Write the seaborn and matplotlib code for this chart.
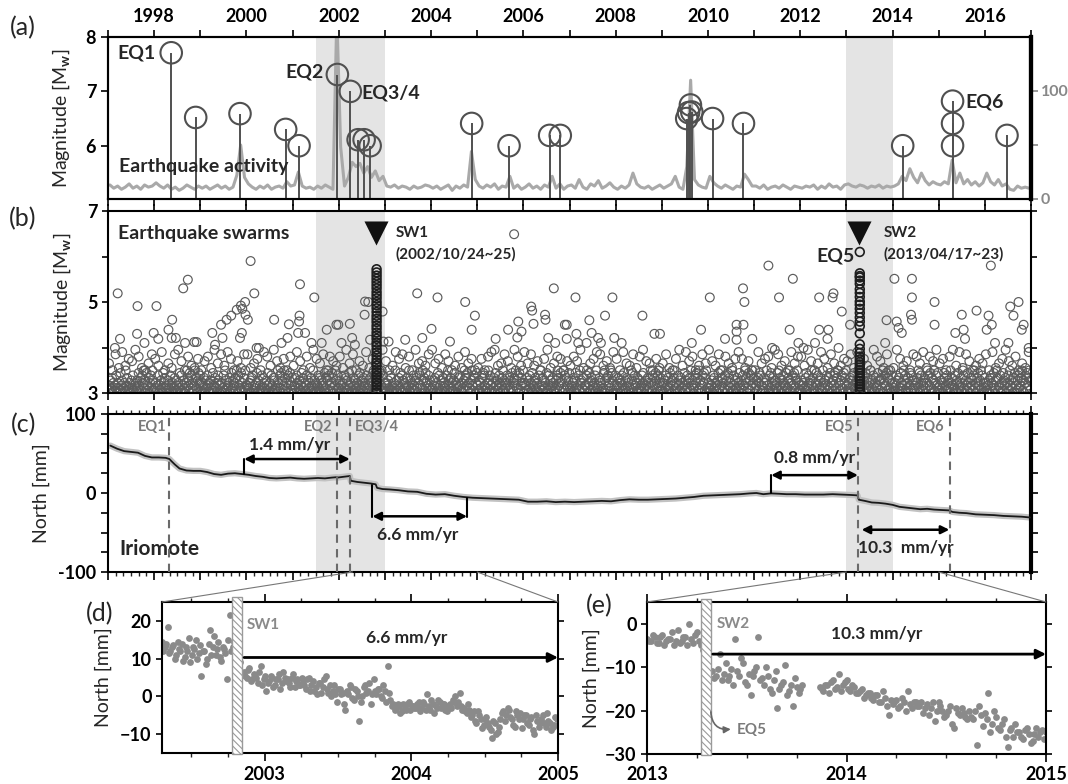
import numpy as np
import matplotlib
matplotlib.use("Agg")
import matplotlib.pyplot as plt
import seaborn as sns
from matplotlib.patches import ConnectionPatch, Rectangle
from matplotlib.ticker import MultipleLocator, FuncFormatter

# ---------------- data ----------------
# (a) large earthquakes: decimal year and Mw
eq_years = [1998.37, 1998.90, 1999.86, 2000.85, 2001.14, 2001.97, 2002.25, 2002.42,
            2002.55, 2002.68, 2004.88, 2005.69, 2006.57, 2006.80, 2009.54, 2009.58,
            2009.62, 2009.65, 2010.10, 2010.77, 2014.22, 2015.30, 2015.30, 2015.30,
            2016.48]
eq_mags = [7.71, 6.52, 6.59, 6.30, 6.00, 7.31, 7.00, 6.11,
           6.11, 6.00, 6.41, 6.00, 6.19, 6.19, 6.50, 6.61,
           6.75, 6.62, 6.50, 6.41, 6.00, 6.82, 6.41, 6.00,
           6.19]

# (a) monthly earthquake activity (right axis), one row per year 1997..2016
activity_rows = [
    [13, 10, 12, 9, 11, 14, 10, 12, 9, 13, 11, 12],
    [15, 12, 10, 13, 9, 11, 8, 10, 13, 11, 9, 12],
    [10, 12, 9, 11, 13, 10, 12, 9, 11, 22, 50, 20],
    [14, 11, 9, 12, 10, 13, 9, 11, 12, 10, 16, 12],
    [13, 25, 12, 10, 11, 9, 12, 10, 13, 11, 9, 170],
    [48, 12, 20, 34, 30, 33, 24, 30, 20, 26, 17, 21],
    [12, 11, 13, 10, 12, 11, 9, 12, 10, 11, 13, 12],
    [10, 12, 9, 11, 13, 8, 12, 10, 13, 11, 44, 18],
    [12, 10, 13, 11, 14, 9, 12, 11, 21, 10, 13, 9],
    [11, 14, 10, 12, 9, 13, 11, 21, 10, 14, 9, 12],
    [13, 10, 18, 11, 9, 14, 12, 17, 10, 12, 15, 11],
    [9, 12, 10, 13, 24, 14, 11, 10, 12, 9, 11, 13],
    [10, 12, 14, 21, 11, 9, 30, 110, 18, 13, 11, 10],
    [21, 15, 12, 10, 13, 11, 9, 12, 11, 23, 18, 12],
    [12, 10, 13, 9, 11, 12, 10, 13, 11, 9, 12, 11],
    [10, 12, 11, 13, 9, 12, 10, 14, 11, 12, 9, 13],
    [14, 12, 11, 13, 12, 10, 12, 11, 13, 10, 12, 11],
    [12, 14, 21, 17, 28, 20, 15, 24, 17, 13, 16, 14],
    [13, 16, 14, 36, 15, 24, 14, 18, 13, 16, 12, 15],
    [24, 16, 13, 18, 12, 14, 9, 8, 12, 10, 11, 10],
]

# (b) individual events above the dense band (decimal year, Mw)
swarm_t = [1997.21, 1997.15, 1997.26, 1997.64, 1998.05, 1997.63, 1997.79, 1997.99, 1998.09, 1998.63,
           1998.73, 1998.39, 1998.31, 1998.38, 1998.47, 1998.67, 1998.87, 1998.92, 1999.26, 1999.45,
           1999.57, 1999.67, 1999.79, 1999.88, 1999.97, 1999.91, 1999.98, 2000.03, 2000.09, 2000.17,
           1999.90, 1999.86, 1999.48, 1999.32, 2000.22, 2000.27, 2000.60, 2000.92, 2000.76, 2000.89,
           2001.15, 2001.16, 2001.14, 2001.12, 2001.27, 2001.47, 2001.41, 2001.63, 2001.74, 2001.95,
           2001.99, 2002.24, 2002.57, 2002.64, 2002.56, 2002.95, 2002.29, 2002.35, 2002.06, 2002.68,
           2002.97, 2005.80, 2003.70, 2004.14, 2004.74, 2004.95, 2004.88, 2004.01, 2003.08, 2003.44,
           2003.81, 2004.41, 2005.40, 2005.67, 2005.89, 2005.96, 2005.87, 2006.17, 2006.19, 2006.47,
           2006.48, 2006.22, 2006.66, 2006.90, 2006.54, 2006.69, 2006.94, 2006.94, 2007.13, 2007.93,
           2007.77, 2007.43, 2008.58, 2007.15, 2007.48, 2007.19, 2007.37, 2007.62, 2007.68, 2007.97,
           2008.13, 2008.84, 2008.96, 2009.65, 2009.85, 2010.04, 2010.62, 2010.62, 2010.77, 2010.62,
           2010.76, 2010.79, 2010.96, 2011.31, 2011.54, 2011.84, 2011.77, 2011.39, 2011.96, 2010.37,
           2012.41, 2012.72, 2012.70, 2012.90, 2012.41, 2012.61, 2012.59, 2012.32, 2013.08, 2014.04,
           2014.42, 2014.42, 2013.87, 2014.09, 2014.13, 2014.40, 2014.42, 2013.84, 2014.20, 2014.91,
           2014.91, 2015.36, 2015.54, 2015.50, 2015.82, 2015.57, 2016.08, 2016.15, 2016.04, 2016.22,
           2016.13, 2016.55, 2016.73, 2016.62, 2016.84, 2016.80, 2016.51, 2016.95, 2012.07, 2012.83]
swarm_m = [5.19, 3.99, 4.19, 4.91, 4.91, 4.30, 4.10, 4.32, 4.19, 5.30,
           5.49, 4.61, 4.39, 4.21, 4.21, 4.10, 4.12, 4.12, 4.32, 4.50,
           4.61, 4.70, 4.83, 4.92, 5.00, 4.85, 4.72, 4.61, 5.90, 5.19,
           4.32, 4.21, 4.21, 4.06, 3.99, 3.99, 4.61, 4.51, 4.10, 4.21,
           4.70, 5.39, 4.57, 4.32, 4.32, 5.10, 4.10, 4.10, 4.39, 4.50,
           4.50, 4.52, 5.01, 5.00, 4.72, 4.79, 4.21, 4.06, 4.10, 4.17,
           4.13, 6.49, 5.19, 5.10, 5.00, 4.70, 4.39, 4.41, 4.13, 4.17,
           4.21, 4.13, 4.19, 4.39, 4.57, 4.35, 4.22, 4.90, 4.81, 4.72,
           4.61, 4.52, 5.30, 4.50, 4.21, 4.10, 4.50, 4.19, 5.10, 5.10,
           4.70, 4.60, 4.70, 4.30, 4.32, 4.10, 4.10, 4.21, 4.10, 4.21,
           4.10, 4.30, 4.30, 4.10, 4.39, 5.10, 4.50, 4.35, 4.50, 4.17,
           5.30, 5.00, 4.19, 5.80, 5.10, 5.51, 4.39, 3.99, 4.10, 4.19,
           5.10, 5.19, 5.10, 4.79, 4.39, 4.39, 4.19, 4.10, 4.50, 5.51,
           5.51, 5.10, 4.60, 4.57, 4.43, 4.72, 4.61, 4.10, 4.32, 5.00,
           4.50, 4.32, 4.39, 4.72, 4.81, 4.19, 4.70, 4.50, 4.39, 4.10,
           5.80, 4.90, 5.00, 4.70, 4.50, 4.39, 4.10, 3.99, 3.99, 3.99]

# (b) dense band of small events, one string per year 1997..2016,
# digit d = event of Mw 3.0 + 0.055*d  (3.0 .. 3.5)
band_rows = [
    "0315260413270420183502419360214052713041528306174925083160472951",
    "2041370315208462031520713402615304281703520149635827041396205847",
    "1403260527314052180362417503140271952034610825346190735281406293",
    "3021450670132480513027164205380142730651203941728503961427058316",
    "0136274025138062413705241630925140372615043182605973148260395172",
    "2503140726150382419063520417380251634072153604189261473058392714",
    "0413520761304291503628170542136039152407315620487302956184037251",
    "1205360418273051642307195036241580432063714025967381420593176048",
    "3051420687310249573014260835127403691520473162508146395270813649",
    "0423160572418035621407290361524081372503641205796318450927163058",
    "2130461582037194520613370248156032471920365410289506173429851037",
    "0316250473182506341209580273416052137480253164029417360852794163",
    "1405270362184053691240735162403815270461935203748619250374816902",
    "4021350762413580293614270518362409173520614832507139460285173946",
    "0235164870312640593017284160352481963025741380265914073826590413",
    "1503420681274059362104837520613942507136280415378260941357208469",
    "3041260573821450936204715382063149520714623805156290473816925074",
    "0214370561284309571246038175251304692807413562049713826059147382",
    "1305240863174520946302715480326149720531842063517924068315927046",
    "2410350674138205961327041853602471935206480315728369150472836915",
]
# (b) moderately dense events between Mw 3.5 and 4.0, digit d = 3.5 + 0.05*d
mid_rows = [
    "30718254961037", "52803179406215", "04619372850417", "71350862941506",
    "28406195370642", "61937042815309", "40285716093427", "93517402618350",
    "15068923741962", "83724059136504", "26491035872418", "50832716943051",
    "37105928460273", "94270631585140", "08356197240836", "62940385173025",
    "47183520964170", "19524076381649", "35069281740253", "70813594260318",
]

# (b) the two swarms
sw1_time = 2002.82
sw1_mags = [5.72, 5.65, 5.58, 5.51, 5.44, 5.37, 5.30, 5.22, 5.15, 5.08, 5.00, 4.93,
            4.86, 4.78, 4.70, 4.63, 4.56, 4.48, 4.41, 4.33, 4.26, 4.19, 4.11, 4.04,
            3.96, 3.89, 3.82, 3.74, 3.67, 3.60, 3.52, 3.45, 3.38, 3.30, 3.23, 3.16,
            3.08, 3.01]
sw2_time = 2013.29
sw2_mags = [5.63, 5.57, 5.54, 5.47, 5.40, 5.28, 5.20, 5.11, 5.01, 4.94, 4.85, 4.76,
            4.66, 4.57, 4.47, 4.31, 4.07, 3.97, 3.88, 3.80, 3.74, 3.68, 3.62, 3.56,
            3.50, 3.44, 3.38, 3.32, 3.26, 3.20, 3.14, 3.08, 3.02]
eq5_mag = 6.10

# (c) Iriomote GPS north component (decimal year, mm)
gps_t = [1997.05, 1997.20, 1997.35, 1997.50, 1997.65, 1997.80, 1997.95, 1998.10, 1998.25, 1998.33,
         1998.38, 1998.45, 1998.55, 1998.70, 1998.85, 1999.00, 1999.15, 1999.30, 1999.45, 1999.60,
         1999.75, 1999.90, 2000.05, 2000.20, 2000.35, 2000.50, 2000.65, 2000.80, 2000.95, 2001.10,
         2001.25, 2001.40, 2001.55, 2001.70, 2001.85, 2001.95, 2001.97, 2002.10, 2002.24, 2002.26,
         2002.40, 2002.55, 2002.70, 2002.80, 2002.83, 2002.95, 2003.10, 2003.30, 2003.50, 2003.70,
         2003.90, 2004.10, 2004.30, 2004.50, 2004.70, 2004.90, 2005.10, 2005.30, 2005.50, 2005.70,
         2005.90, 2006.10, 2006.30, 2006.50, 2006.70, 2006.90, 2007.10, 2007.30, 2007.50, 2007.70,
         2007.90, 2008.10, 2008.30, 2008.50, 2008.70, 2008.90, 2009.10, 2009.30, 2009.50, 2009.70,
         2009.90, 2010.10, 2010.30, 2010.50, 2010.70, 2010.90, 2011.05, 2011.20, 2011.37, 2011.55,
         2011.70, 2011.90, 2012.10, 2012.30, 2012.50, 2012.70, 2012.90, 2013.10, 2013.24, 2013.27,
         2013.40, 2013.55, 2013.70, 2013.85, 2014.00, 2014.15, 2014.30, 2014.45, 2014.60, 2014.75,
         2014.90, 2015.05, 2015.22, 2015.30, 2015.45, 2015.60, 2015.80, 2016.00, 2016.20, 2016.40,
         2016.60, 2016.80, 2016.98]
gps_n = [60, 56, 53, 52, 51, 47, 45, 45, 44.5, 43,
         40, 36, 31, 28.5, 28, 28, 26.5, 24, 23, 24.5,
         25, 24, 23, 21.5, 20.5, 19, 18.5, 19, 19.5, 18.5,
         18, 18.5, 19, 18.5, 19.5, 20, 19.5, 20.5, 21.5, 15.5,
         14, 13, 12, 11, 6.5, 5, 4.5, 3.5, 2, 1.5,
         -1, -2, -1.5, -3.5, -5, -6, -6.5, -7, -7.5, -8,
         -8.5, -11, -11, -10.5, -11.5, -11, -11.5, -11, -10.5, -10,
         -10.5, -9, -8, -8.5, -8.5, -8, -7.5, -7, -6, -5,
         -3.5, -3, -2.5, -2, -1.5, -0.5, 0, -1.5, -0.5, -1,
         -1.5, -1.5, -2, -2, -2, -1.5, -2, -2.5, -3, -8.5,
         -10, -12, -12.5, -13.5, -15, -17.5, -18.5, -19.5, -20.5, -20,
         -21, -21.5, -22, -24, -25, -25.5, -27, -27.5, -28, -29,
         -29.5, -30, -31]

# (d) north values twice a week from 2002.30 (mm): two interleaved lists
d_start = 2002.30
d_north = [14.5, 13, 18.5, 12, 13.5, 11, 12.5, 14, 10.5, 12, 9, 13, 15, 11.5, 5.5, 12, 10, 17.5,
           13, 11, 14.5, 9.5, 12.5, 4.5, 21.5, 13,
           12, 8, 6,
           6.5, 5, 7.5, 4.5, 5.5, 3.5, 8, 4.5,
           1.5, 4, 5, 3, 4.5, 2, 6.5, 4, 3.5, 5, 2.5, 4.5, 3,
           4, 2, 5, 3, 1.5, 0.5, 3.5, 2.5, 5.5, 1, 0, 3, -1.5,
           2, 1, -3.5, 0.5, 2.5, -1, 1.5, -6.5, 0, 3, 1.5, -2, 4.5,
           0.5, 2, -0.5, 1.5, 8, -1, -2, -3, -2.5, -4, -3, -2, -3.5,
           -2.5, -3, -1.5, -3, -2, 0.5, -3.5, -2, -2.5, -1, -3, -2, -4,
           -2, -1, 0, -1.5, -2.5, -3, -4.5, -3.5, -5, -6.5, -4, -6, -7.5,
           -5.5, -8, -11, -7, -9.5, -6, -4, -5, -3.5, -6, -8, -5, -4.5,
           -6, -5, -7.5, -5.5, -10, -6.5, -7, -5, -8, -6.5, -9, -7.5, -6]
d_north_b = [12, 14, 11.5, 13, 10, 14.5, 12, 9.5, 13, 15.5, 11, 12.5, 10, 13.5, 12, 8.5, 14, 11,
             16, 12.5, 10.5, 13, 11.5, 15, 12, 14.5,
             11, 9, 6,
             5.5, 7, 4, 6, 5, 6.5, 3, 5.5,
             3.5, 5.5, 2.5, 4.5, 6, 3.5, 5, 4.5, 2.5, 6, 4, 3, 5,
             3, 4.5, 1.5, 4, 2.5, 3.5, 1, 4.5, 2, 3, 1.5, 0.5, 2,
             0.5, -2, 1.5, 3, -0.5, 2, 0, -1.5, 2.5, 1, 3.5, 0.5, 1.5,
             2, 0, 3, -1.5, 1, -2.5, -3.5, -2, -4.5, -2, -3.5, -1.5, -2.5,
             -3, -2, -4, -1.5, -3.5, -2.5, -1, -4.5, -3, -1.5, -2, -3.5, -2.5,
             -3, -1.5, -2.5, 1, -3.5, -4, -2, -5.5, -4, -7, -5, -8.5, -6,
             -7, -9, -6.5, -10, -8, -4.5, -6.5, -3, -5.5, -7.5, -4, -6, -8.5,
             -5, -7, -6, -9, -5, -8, -6, -7, -4.5, -7, -8, -5.5, -7.5]

# (e) north values twice a week from 2013.0 (mm), None = data gap
e_start = 2013.0
e_north = [-3.5, -4, -3, -4.5, -2.5, -4, -3.5, -5, -1.5, -4, -3, 0, -4.5, -2,
           -5, -8, -10,
           -11, -12, -7, -11.5, -13, -10.5, -3.5, -12, -9, -14, -16.5, -11, -3,
           -12.5, -10, -15, -13, -19.5, -14, -9.5, -15.5, -19, -14.5, -15,
           None, None, None, None,
           -14.5, -15.5, -14, -13.5, -15, -11.5, -14, -13, -15.5, -14.5, -16, -15, -16.5,
           -16, -17.5, -16.5, -18, -17, -21, -18.5, -17.5, -19, -18, -15.5, -19.5, -18,
           -19, -20.5, -18.5, -19.5, -22.5, -18, -20, -21, -19, -24, -20.5, -19.5, -21.5,
           -20, -22, -28, -21, -20.5, -16, -23, -21.5, -24.5, -22, -28.5, -24, -23,
           -25, -26.5, -24, -27.5, -25.5, -26, -24.5, -25]
e_north_b = [-4, -2.5, -4.5, -3, -5, -3.5, -2, -4, -4.5, -3, -5, -3.5, -2.5, -4,
             -6, -9, -11,
             -12.5, -10.5, -13, -9, -12, -14, -11, -8, -13.5, -11.5, -12, -10, -13,
             -14, -12, -16, -11, -15, -13.5, -16.5, -14, -12.5, -16, -14,
             None, None, None, None,
             -15, -14, -16, -13, -14.5, -15.5, -13.5, -15, -14, -16, -15.5, -17, -16,
             -17, -16.5, -18, -15.5, -19, -17.5, -18, -19.5, -17, -20, -18.5, -18, -19,
             -18, -19.5, -21, -18, -20, -19, -21.5, -20, -23, -19.5, -21, -20.5, -22,
             -21.5, -20, -19, -23.5, -22, -25, -20, -24, -23, -26, -24.5, -26, -25,
             -26, -24.5, -25.5, -27, -24, -25, -26.5, -24]

shade_spans = [(2001.5, 2003.0), (2013.0, 2014.0)]
c_eq_lines = [1998.33, 2001.96, 2002.24, 2013.26, 2015.24]

# ---------------- figure ----------------
sns.set_theme(style="ticks")
plt.rcParams["font.family"] = ["Lato", "DejaVu Sans"]
plt.rcParams["font.weight"] = "bold"
plt.rcParams["mathtext.fontset"] = "custom"
plt.rcParams["mathtext.rm"] = "Lato"
plt.rcParams["hatch.linewidth"] = 0.8

W, H = 1068, 784
fig = plt.figure(figsize=(W / 100, H / 100), dpi=100)


def rect(l, t, r, b):
    return [l / W, 1 - b / H, (r - l) / W, (b - t) / H]


def frame(ax, lw=1.5):
    for sp in ax.spines.values():
        sp.set_visible(True)
        sp.set_linewidth(lw)
        sp.set_color("black")
    ax.tick_params(labelsize=13, width=1.2, colors="black")


ax_a = fig.add_axes(rect(108, 37, 1031, 199))
ax_r = ax_a.twinx()
ax_b = fig.add_axes(rect(108, 211, 1031, 393))
ax_c = fig.add_axes(rect(108, 414, 1031, 572))
ax_d = fig.add_axes(rect(162, 602, 558, 753))
ax_e = fig.add_axes(rect(647, 602, 1046, 754))

year_fmt = FuncFormatter(lambda v, p: str(int(round(v))) if int(round(v)) % 2 == 0 else "")
shade = "#e4e4e4"

# ---- (a) ----
ax_a.set_zorder(ax_r.get_zorder() + 1)
ax_a.patch.set_visible(False)
for lo, hi in shade_spans:
    ax_r.axvspan(lo, hi, color=shade, lw=0, zorder=0)
act_t = np.array([1997 + k + (m + 0.5) / 12 for k in range(len(activity_rows)) for m in range(12)])
act_v = np.concatenate([np.array(r, float) for r in activity_rows])
sns.lineplot(x=act_t, y=act_v, ax=ax_r, color="#a9a9a9", lw=2.2, estimator=None, sort=False)
ax_r.set_ylim(0, 150)
ax_r.set_yticks([0, 50, 100])
ax_r.set_yticklabels(["0", "", "100"])
ax_r.set_ylabel("")
frame(ax_r)
ax_r.tick_params(axis="y", colors="#888888", length=5, pad=2, labelsize=11.5)
ax_r.spines["right"].set_linewidth(3)

ax_a.vlines(eq_years, 5.0, eq_mags, color="#505050", lw=1.4, zorder=2)
sns.scatterplot(x=eq_years, y=eq_mags, ax=ax_a, s=240, facecolor="none", edgecolor="#505050",
                linewidth=1.5, zorder=3, legend=False)
ax_a.set_xlim(1997, 2017)
ax_a.set_ylim(5.02, 8.0)
ax_a.set_yticks([6, 7, 8])
ax_a.xaxis.set_major_locator(MultipleLocator(1))
ax_a.xaxis.set_major_formatter(year_fmt)
frame(ax_a)
ax_a.spines["right"].set_linewidth(3)
ax_a.tick_params(axis="x", top=True, labeltop=True, bottom=True, labelbottom=False, length=5)
ax_a.tick_params(axis="y", length=5)
ax_a.set_ylabel("Magnitude [M$_\\mathrm{w}$]", fontsize=14, fontweight="normal", labelpad=10)
for name, x, y in [("EQ1", 1997.61, 7.71), ("EQ2", 2001.26, 7.35),
                   ("EQ3/4", 2003.13, 6.97), ("EQ6", 2015.99, 6.81)]:
    ax_a.text(x, y, name, fontsize=14, ha="center", va="center")
ax_a.text(1997.23, 5.62, "Earthquake activity", fontsize=14, ha="left", va="center")

# ---- (b) ----
for lo, hi in shade_spans:
    ax_b.axvspan(lo, hi, color=shade, lw=0, zorder=0)
band_t, band_m = [], []
for k, row in enumerate(band_rows):
    for i, ch in enumerate(row):
        band_t.append(1997 + k + (i + 0.5) / len(row))
        band_m.append(3.0 + 0.055 * int(ch))
for k, row in enumerate(mid_rows):
    for i, ch in enumerate(row):
        band_t.append(1997 + k + (i + 0.3) / len(row))
        band_m.append(3.5 + 0.05 * int(ch))
ring = dict(s=40, facecolor="none", edgecolor="#5c5c5c", linewidth=0.85, legend=False)
sns.scatterplot(x=band_t, y=band_m, ax=ax_b, zorder=2, **ring)
sns.scatterplot(x=swarm_t, y=swarm_m, ax=ax_b, zorder=2, **ring)
dark = dict(s=40, facecolor="none", edgecolor="#1e1e1e", linewidth=1.2, legend=False)
sns.scatterplot(x=[sw1_time] * len(sw1_mags), y=sw1_mags, ax=ax_b, zorder=3, **dark)
sns.scatterplot(x=[sw2_time] * len(sw2_mags), y=sw2_mags, ax=ax_b, zorder=3, **dark)
sns.scatterplot(x=[sw2_time], y=[eq5_mag], ax=ax_b, zorder=3, **dark)
sns.scatterplot(x=[2002.80, 2013.27], y=[6.51, 6.51], ax=ax_b, marker="v", s=300,
                color="#111111", linewidth=0, zorder=4, legend=False)
ax_b.set_xlim(1997, 2017)
ax_b.set_ylim(3, 7)
ax_b.set_yticks([3, 4, 5, 6, 7])
ax_b.set_yticklabels(["3", "", "5", "", "7"])
ax_b.xaxis.set_major_locator(MultipleLocator(1))
frame(ax_b)
ax_b.tick_params(axis="x", top=True, bottom=True, labelbottom=False, length=5)
ax_b.tick_params(axis="y", right=True, length=4)
ax_b.set_ylabel("Magnitude [M$_\\mathrm{w}$]", fontsize=14, fontweight="normal", labelpad=10)
ax_b.text(1997.22, 6.50, "Earthquake swarms", fontsize=14, ha="left", va="center")
ax_b.text(2003.23, 6.51, "SW1", fontsize=11, ha="left", va="center")
ax_b.text(2003.23, 6.05, "(2002/10/24~25)", fontsize=11, ha="left", va="center")
ax_b.text(2013.80, 6.51, "SW2", fontsize=11, ha="left", va="center")
ax_b.text(2013.80, 6.05, "(2013/04/17~23)", fontsize=11, ha="left", va="center")
ax_b.text(2013.17, 6.02, "EQ5", fontsize=14, ha="right", va="center")

# ---- (c) ----
for lo, hi in shade_spans:
    ax_c.axvspan(lo, hi, color=shade, lw=0, zorder=0)
sns.lineplot(x=gps_t, y=gps_n, ax=ax_c, color="#c2c2c2", lw=4.5, estimator=None, sort=False, zorder=2)
sns.lineplot(x=gps_t, y=gps_n, ax=ax_c, color="#1a1a1a", lw=1.3, estimator=None, sort=False, zorder=3)
for x in c_eq_lines:
    ax_c.axvline(x, color="#6a6a6a", lw=1.5, ls=(0, (4, 3)), zorder=4)
for name, x, ha in [("EQ1", 1998.27, "right"), ("EQ2", 2001.86, "right"), ("EQ3/4", 2002.34, "left"),
                    ("EQ5", 2013.15, "right"), ("EQ6", 2015.13, "right")]:
    ax_c.text(x, 83, name, fontsize=10.5, color="#7a7a7a", ha=ha, va="center")
arrow = dict(arrowstyle="<|-|>", color="black", lw=1.8, mutation_scale=12, shrinkA=0, shrinkB=0)
for x1, x2, y, lab, lx, ly in [(1999.95, 2002.24, 43, "1.4 mm/yr", 2000.94, 61),
                               (2002.73, 2004.78, -29.5, "6.6 mm/yr", 2003.71, -53),
                               (2011.37, 2013.25, 22.6, "0.8 mm/yr", 2012.30, 44),
                               (2013.33, 2015.23, -46.5, "10.3  mm/yr", 2014.29, -69)]:
    ax_c.annotate("", xy=(x2, y), xytext=(x1, y), arrowprops=arrow, zorder=5)
    ax_c.text(lx, ly, lab, fontsize=12.5, ha="center", va="center", zorder=5)
for x, y1, y2 in [(1999.95, 23.5, 43), (2002.73, 9.8, -31), (2004.78, -6.4, -31), (2011.37, 0, 22.6)]:
    ax_c.plot([x, x], [y1, y2], color="black", lw=1.5, zorder=5)
ax_c.text(1997.24, -71, "Iriomote", fontsize=15, ha="left", va="center")
ax_c.set_xlim(1997, 2017)
ax_c.set_ylim(-100, 100)
ax_c.set_yticks(np.arange(-100, 101, 25))
ax_c.set_yticklabels(["-100", "", "", "", "0", "", "", "", "100"])
ax_c.xaxis.set_major_locator(MultipleLocator(1))
ax_c.xaxis.set_minor_locator(MultipleLocator(1 / 6))
frame(ax_c)
ax_c.spines["right"].set_linewidth(3)
ax_c.tick_params(axis="x", which="both", top=True, bottom=True, labelbottom=False)
ax_c.tick_params(axis="x", which="major", length=6)
ax_c.tick_params(axis="x", which="minor", length=3, width=1)
ax_c.tick_params(axis="y", right=True, length=5)
ax_c.set_ylabel("North [mm]", fontsize=14, fontweight="normal", labelpad=6)

# ---- (d) ----
d_t = d_start + np.arange(len(d_north)) / 52
dots = dict(color="#8a8a8a", s=24, linewidth=0, zorder=2, legend=False)
sns.scatterplot(x=d_t, y=d_north, ax=ax_d, **dots)
sns.scatterplot(x=d_t + 0.5 / 52, y=d_north_b, ax=ax_d, **dots)
ax_d.add_patch(Rectangle((2002.78, -15.3), 0.065, 41.5, facecolor="white", edgecolor="#9a9a9a",
                         hatch="\\\\\\\\\\", lw=1, zorder=3, clip_on=False))
ax_d.annotate("", xy=(2005.0, 10.3), xytext=(2002.86, 10.3), annotation_clip=False,
              arrowprops=dict(arrowstyle="-|>", color="black", lw=2, mutation_scale=14, shrinkA=0, shrinkB=0))
ax_d.text(2003.97, 15.4, "6.6 mm/yr", fontsize=12.5, ha="center", va="center")
ax_d.text(2002.88, 19, "SW1", fontsize=11, color="#8a8a8a", ha="left", va="center")
ax_d.set_xlim(2002.3, 2005.0)
ax_d.set_ylim(-15, 25)
ax_d.set_yticks([-10, 0, 10, 20])
ax_d.set_xticks([2003, 2004, 2005])
ax_d.set_xticklabels(["2003", "2004", "2005"])
ax_d.xaxis.set_minor_locator(MultipleLocator(0.25))
frame(ax_d)
ax_d.tick_params(axis="x", which="both", top=True, bottom=True, pad=3)
ax_d.tick_params(axis="x", which="minor", length=3, width=1)
ax_d.tick_params(axis="y", right=True, length=4)
ax_d.set_ylabel("North [mm]", fontsize=14, fontweight="normal", labelpad=6)

# ---- (e) ----
e_vals = np.array([np.nan if v is None else v for v in e_north], float)
e_vals_b = np.array([np.nan if v is None else v for v in e_north_b], float)
e_t = e_start + np.arange(len(e_vals)) / 52
sns.scatterplot(x=e_t, y=e_vals, ax=ax_e, **dots)
sns.scatterplot(x=e_t + 0.5 / 52, y=e_vals_b, ax=ax_e, **dots)
ax_e.add_patch(Rectangle((2013.27, -30.3), 0.05, 35.9, facecolor="white", edgecolor="#9a9a9a",
                         hatch="\\\\\\\\\\", lw=1, zorder=3, clip_on=False))
ax_e.annotate("", xy=(2015.0, -7.0), xytext=(2013.33, -7.0), annotation_clip=False,
              arrowprops=dict(arrowstyle="-|>", color="black", lw=2, mutation_scale=14, shrinkA=0, shrinkB=0))
ax_e.annotate("", xy=(2013.42, -24.3), xytext=(2013.32, -20.3),
              arrowprops=dict(arrowstyle="-|>", color="#666666", lw=1.2, mutation_scale=10,
                              connectionstyle="arc3,rad=0.5", shrinkA=0, shrinkB=0), zorder=4)
ax_e.text(2013.45, -24.5, "EQ5", fontsize=11, color="#7a7a7a", ha="left", va="center")
ax_e.text(2014.15, -2.3, "10.3 mm/yr", fontsize=12.5, ha="center", va="center")
ax_e.text(2013.35, 0, "SW2", fontsize=11, color="#8a8a8a", ha="left", va="center")
ax_e.set_xlim(2013, 2015)
ax_e.set_ylim(-30, 5)
ax_e.set_yticks([-30, -20, -10, 0])
ax_e.set_xticks([2013, 2014, 2015])
ax_e.set_xticklabels(["2013", "2014", "2015"])
ax_e.xaxis.set_minor_locator(MultipleLocator(0.25))
frame(ax_e)
ax_e.tick_params(axis="x", which="both", top=True, bottom=True, pad=3)
ax_e.tick_params(axis="x", which="minor", length=3, width=1)
ax_e.tick_params(axis="y", right=True, length=4)
ax_e.set_ylabel("North [mm]", fontsize=14, fontweight="normal", labelpad=4)

# zoom connectors from (c) to (d) and (e)
for xa, axb, xb in [(2002.3, ax_d, 0), (2005.0, ax_d, 1), (2013.0, ax_e, 0), (2015.0, ax_e, 1)]:
    con = ConnectionPatch(xyA=(xa, -100), coordsA=ax_c.transData, xyB=(xb, 1), coordsB=axb.transAxes,
                          color="#777777", lw=0.8)
    fig.add_artist(con)

# panel letters
for lab, x, y in [("(a)", 23, 28), ("(b)", 23, 219), ("(c)", 24, 425), ("(d)", 100, 614), ("(e)", 599, 606)]:
    fig.text(x / W, 1 - y / H, lab, fontsize=18, fontweight="normal", ha="center", va="center")

fig.savefig("out.png", dpi=100)
